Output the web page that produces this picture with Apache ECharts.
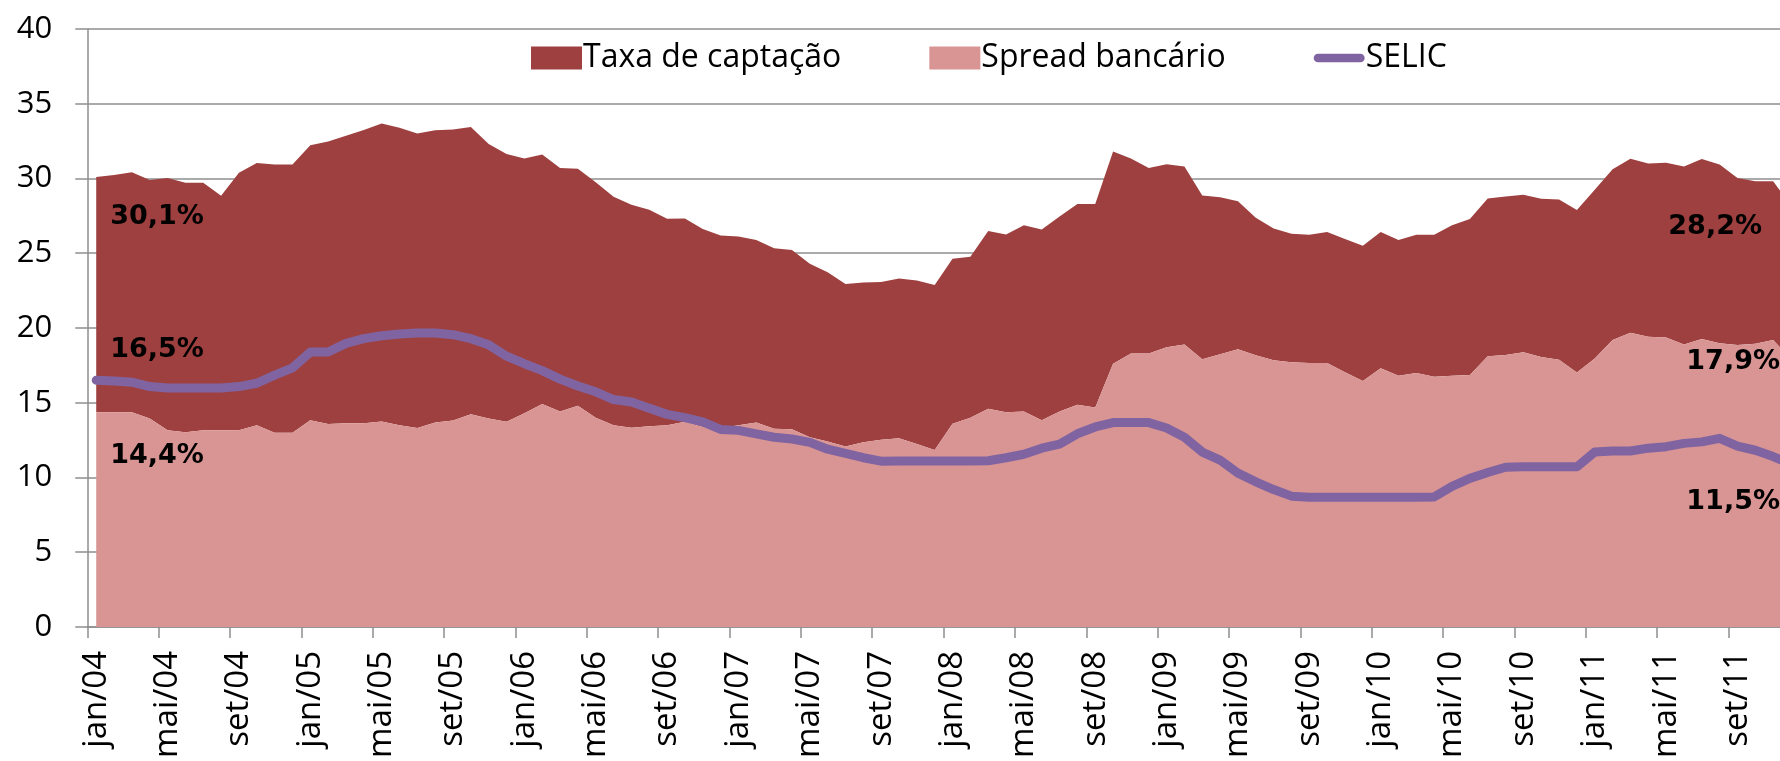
<!DOCTYPE html>
<html>
<head>
<meta charset="utf-8">
<script src="https://cdn.jsdelivr.net/npm/echarts@6/dist/echarts.min.js"></script>
<style>
  html, body { margin: 0; padding: 0; background: #ffffff; overflow: hidden; width: 1780px; height: 761px; }
  #chart { width: 1810px; height: 761px; }
</style>
</head>
<body>
<div id="chart"></div>
<script>
// ---- data ----
const months = ['jan','fev','mar','abr','mai','jun','jul','ago','set','out','nov','dez'];
const years = ['04','05','06','07','08','09','10','11'];
const categories = [];
years.forEach(function (y) { months.forEach(function (m) { categories.push(m + '/' + y); }); });

const spreadBancario = [
  14.37,14.37,14.37,13.95,13.15,13.02,13.15,13.15,13.15,13.50,12.99,12.99,
  13.83,13.57,13.63,13.63,13.75,13.49,13.31,13.67,13.81,14.22,13.95,13.72,
  14.29,14.91,14.41,14.79,13.99,13.49,13.33,13.42,13.49,13.72,13.38,13.30,
  13.49,13.67,13.26,13.22,12.69,12.41,12.07,12.35,12.53,12.62,12.23,11.84,
  13.60,13.99,14.59,14.37,14.41,13.83,14.41,14.86,14.68,17.61,18.30,18.30,
  18.71,18.89,17.91,18.25,18.57,18.18,17.84,17.71,17.66,17.65,17.04,16.46,
  17.31,16.81,16.99,16.74,16.81,16.85,18.11,18.20,18.37,18.05,17.88,17.02,
  17.95,19.20,19.68,19.42,19.36,18.90,19.26,18.98,18.86,18.95,19.20,17.90
];
const taxaCaptacao = [
  15.73,15.86,16.05,15.95,16.88,16.69,16.56,15.69,17.24,17.53,17.94,17.94,
  18.39,18.91,19.23,19.62,19.92,19.91,19.70,19.55,19.47,19.22,18.35,17.92,
  17.05,16.70,16.29,15.86,15.75,15.29,14.92,14.49,13.82,13.60,13.24,12.89,
  12.63,12.22,12.08,11.99,11.60,11.31,10.87,10.69,10.55,10.69,10.94,11.03,
  11.03,10.78,11.89,11.88,12.47,12.75,13.04,13.44,13.62,14.19,13.04,12.40,
  12.24,11.92,10.96,10.50,9.91,9.20,8.81,8.59,8.58,8.77,8.92,9.04,
  9.11,9.08,9.25,9.50,10.07,10.44,10.55,10.60,10.55,10.60,10.72,10.88,
  11.30,11.41,11.64,11.58,11.70,11.90,12.04,11.95,11.17,10.86,10.61,10.30
];
const selic = [
  16.50,16.46,16.37,16.08,15.98,15.98,15.98,15.98,16.08,16.30,16.85,17.33,
  18.39,18.39,18.97,19.29,19.48,19.60,19.67,19.67,19.55,19.28,18.87,18.11,
  17.61,17.15,16.58,16.12,15.73,15.21,15.05,14.63,14.22,14.00,13.72,13.21,
  13.15,12.92,12.69,12.57,12.35,11.89,11.61,11.32,11.09,11.10,11.10,11.10,
  11.10,11.10,11.12,11.32,11.55,11.96,12.23,12.92,13.38,13.67,13.67,13.67,
  13.31,12.69,11.70,11.16,10.29,9.71,9.19,8.75,8.68,8.68,8.68,8.68,
  8.68,8.68,8.68,8.70,9.41,9.94,10.33,10.68,10.71,10.71,10.71,10.71,
  11.70,11.77,11.77,11.96,12.06,12.28,12.38,12.62,12.10,11.82,11.40,10.90
];
const seriesNames = ['Taxa de captação', 'Spread bancário', 'SELIC'];
const firstLabels = { captacao: '30,1%', spread: '14,4%', selic: '16,5%' };
const lastLabels = { captacao: '28,2%', spread: '17,9%', selic: '11,5%' };

// ---- styling ----
const DARK = '#9E403F';
const LIGHT = '#D99594';
const PURPLE = '#8064A2';
const GRID_GRAY = '#8e8e8e';
const AXIS_FONT = '"Open Sans", "Liberation Sans", sans-serif';
const LABEL_FONT = '"DejaVu Sans", Verdana, sans-serif';
const SELIC_ICON = 'path://M5,0 H55 A5,5 0 0 1 55,10 H5 A5,5 0 0 1 5,0 Z';

function edgeLabel(text, position, distance, dy) {
  return {
    show: true,
    formatter: text,
    position: position,
    distance: distance,
    offset: [0, dy],
    fontFamily: LABEL_FONT,
    fontWeight: 'bold',
    fontSize: 27,
    color: '#000000'
  };
}

function withEdgeLabels(values, first, last) {
  const n = values.length;
  return values.map(function (v, i) {
    if (i === 0) return { value: v, label: first };
    if (i === n - 1) return { value: v, label: last };
    return v;
  });
}

const chart = echarts.init(document.getElementById('chart'), null, { renderer: 'canvas' });

const option = {
  animation: false,
  backgroundColor: '#ffffff',
  grid: { left: 87.3, top: 29, width: 1712.6, height: 606, containLabel: false },
  legend: {
    data: [
      { name: seriesNames[0], icon: 'rect' },
      { name: seriesNames[1], icon: 'rect' },
      { name: seriesNames[2], icon: SELIC_ICON }
    ],
    left: 526,
    top: 37,
    itemWidth: 51,
    itemHeight: 23,
    itemGap: 88,
    textStyle: { fontFamily: AXIS_FONT, fontSize: 32, color: '#000000', padding: [0, 0, 0, -4] }
  },
  xAxis: {
    type: 'category',
    data: categories,
    boundaryGap: true,
    axisLine: { show: true, lineStyle: { color: GRID_GRAY, width: 1.5 } },
    axisTick: { show: true, interval: 3, length: 11, lineStyle: { color: GRID_GRAY, width: 1.5 } },
    axisLabel: {
      interval: 3,
      rotate: 90,
      margin: 24,
      fontFamily: AXIS_FONT,
      fontSize: 33,
      color: '#000000'
    },
    splitLine: { show: false }
  },
  yAxis: {
    type: 'value',
    min: 0,
    max: 40,
    interval: 5,
    axisLine: { show: true, lineStyle: { color: GRID_GRAY, width: 1.5 } },
    axisTick: { show: true, length: 12, lineStyle: { color: GRID_GRAY, width: 1.5 } },
    axisLabel: { margin: 35, fontFamily: AXIS_FONT, fontSize: 31, color: '#000000' },
    splitLine: { show: true, lineStyle: { color: GRID_GRAY, width: 1.5 } }
  },
  series: [
    {
      name: seriesNames[1],
      type: 'line',
      stack: 'taxa',
      data: withEdgeLabels(spreadBancario,
        edgeLabel(firstLabels.spread, 'right', 14, 44),
        edgeLabel(lastLabels.spread, 'left', 11, 3)),
      symbol: 'circle',
      symbolSize: 0,
      showSymbol: true,
      showAllSymbol: true,
      lineStyle: { width: 0, color: LIGHT },
      itemStyle: { color: LIGHT },
      areaStyle: { color: LIGHT, opacity: 1 },
      label: { show: false },
      emphasis: { disabled: true },
      z: 2
    },
    {
      name: seriesNames[0],
      type: 'line',
      stack: 'taxa',
      data: withEdgeLabels(taxaCaptacao,
        edgeLabel(firstLabels.captacao, 'right', 14, 40),
        edgeLabel(lastLabels.captacao, 'left', 29, 22)),
      symbol: 'circle',
      symbolSize: 0,
      showSymbol: true,
      showAllSymbol: true,
      lineStyle: { width: 0, color: DARK },
      itemStyle: { color: DARK },
      areaStyle: { color: DARK, opacity: 1 },
      label: { show: false },
      emphasis: { disabled: true },
      z: 1
    },
    {
      name: seriesNames[2],
      type: 'line',
      data: withEdgeLabels(selic,
        edgeLabel(firstLabels.selic, 'right', 14, -30),
        edgeLabel(lastLabels.selic, 'left', 11, 38)),
      symbol: 'circle',
      symbolSize: 0,
      showSymbol: true,
      showAllSymbol: true,
      lineStyle: { width: 9, color: PURPLE, cap: 'round', join: 'round' },
      itemStyle: { color: PURPLE },
      label: { show: false },
      emphasis: { disabled: true },
      z: 5
    }
  ]
};

chart.setOption(option);
</script>
</body>
</html>
